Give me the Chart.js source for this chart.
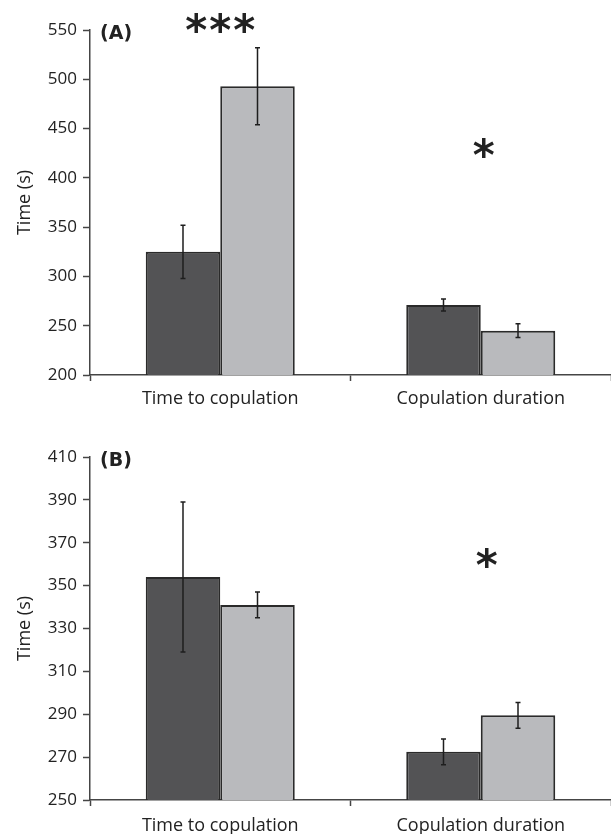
<!DOCTYPE html>
<html>
<head>
<meta charset="utf-8">
<script src="https://cdn.jsdelivr.net/npm/chart.js@4"></script>
<style>
  body { margin: 0; background: #fff; }
  .panel { position: absolute; left: 0; width: 611px; height: 417px; }
</style>
</head>
<body>
<div class="panel" style="top:0"><canvas id="chartA"></canvas></div>
<div class="panel" style="top:417px"><canvas id="chartB"></canvas></div>
<script>
const categories = ["Time to copulation", "Copulation duration"];

// panel A
const darkA = [325, 271];
const darkErrA = [27, 6];
const lightA = [493, 245];
const lightErrA = [39, 7];
const starsA = ["***", "*"];

// panel B
const darkB = [354, 272.5];
const darkErrB = [35, 6];
const lightB = [341, 289.5];
const lightErrB = [6, 6];
const starsB = ["", "*"];

const FONT = "'Open Sans', sans-serif";
const TEXT = "#222";
const AXIS = "#454545";

// error bars + panel letter + significance stars
const marks = {
  id: "marks",
  afterDatasetsDraw(chart, args, opts) {
    const ctx = chart.ctx;
    const y = chart.scales.y;
    const x = chart.scales.x;
    const area = chart.chartArea;
    ctx.save();
    ctx.strokeStyle = "#1e1e1e";
    ctx.lineWidth = 1.5;
    chart.data.datasets.forEach((ds, i) => {
      chart.getDatasetMeta(i).data.forEach((bar, j) => {
        const top = y.getPixelForValue(ds.data[j] + ds.err[j]);
        const bot = y.getPixelForValue(ds.data[j] - ds.err[j]);
        ctx.beginPath();
        ctx.moveTo(bar.x, top); ctx.lineTo(bar.x, bot);
        ctx.moveTo(bar.x - 2.5, top); ctx.lineTo(bar.x + 2.5, top);
        ctx.moveTo(bar.x - 2.5, bot); ctx.lineTo(bar.x + 2.5, bot);
        ctx.stroke();
      });
    });

    ctx.fillStyle = TEXT;
    ctx.font = "bold 19px 'DejaVu Sans'";
    ctx.textAlign = "left";
    ctx.textBaseline = "middle";
    ctx.fillText(opts.letter, area.left + 10, area.top + 4);

    ctx.font = "bold 42px 'DejaVu Sans'";
    ctx.textAlign = "center";
    ctx.textBaseline = "alphabetic";
    const m = ctx.measureText("*");
    const shift = (m.actualBoundingBoxAscent - m.actualBoundingBoxDescent) / 2;
    opts.stars.forEach((s, j) => {
      const cx = x.getPixelForValue(j) + opts.starDx[j];
      for (let k = 0; k < s.length; k++) {
        const sx = cx + (k - (s.length - 1) / 2) * 24;
        ctx.fillText("*", sx, opts.starY[j] + shift);
      }
    });
    ctx.restore();
  }
};

function makeChart(id, letter, dark, darkErr, light, lightErr, stars, yMin, yMax, yStep, padTop, xHeight, xPad, starY, starDx) {
  new Chart(document.getElementById(id), {
    type: "bar",
    data: {
      labels: categories,
      datasets: [
        { data: dark, err: darkErr, backgroundColor: "#535355", borderColor: "#2a2a2a", borderWidth: 2 },
        { data: light, err: lightErr, backgroundColor: "#b9babd", borderColor: "#2a2a2a", borderWidth: 2 }
      ]
    },
    options: {
      responsive: true,
      maintainAspectRatio: false,
      animation: false,
      layout: { padding: { top: padTop, left: 0, right: 0, bottom: 0 } },
      datasets: { bar: { categoryPercentage: 0.572, barPercentage: 1 } },
      plugins: {
        legend: { display: false },
        tooltip: { enabled: false },
        marks: { letter: letter, stars: stars, starY: starY, starDx: starDx }
      },
      scales: {
        x: {
          grid: { drawOnChartArea: false, tickLength: 6, tickColor: AXIS, tickWidth: 1.5, offset: true },
          border: { color: AXIS, width: 1.5 },
          ticks: { color: TEXT, font: { family: FONT, size: 18 }, padding: xPad, maxRotation: 0 },
          afterFit: s => { s.height = xHeight; }
        },
        y: {
          min: yMin,
          max: yMax,
          ticks: { stepSize: yStep, color: TEXT, font: { family: FONT, size: 17 }, padding: 6 },
          grid: { drawOnChartArea: false, tickLength: 7, tickColor: AXIS, tickWidth: 1.5 },
          border: { color: AXIS, width: 1.5 },
          title: { display: true, text: "Time (s)", color: TEXT, font: { family: FONT, size: 18 }, padding: { top: 14, bottom: 0 } },
          afterFit: s => { s.width = 90; }
        }
      }
    },
    plugins: [marks]
  });
}

makeChart("chartA", "(A)", darkA, darkErrA, lightA, lightErrA, starsA, 200, 550, 50, 30, 42, 7, [23, 148], [0, 3]);
makeChart("chartB", "(B)", darkB, darkErrB, lightB, lightErrB, starsB, 250, 410, 20, 40, 34, 9, [0, 141], [0, 6]);
</script>
</body>
</html>
